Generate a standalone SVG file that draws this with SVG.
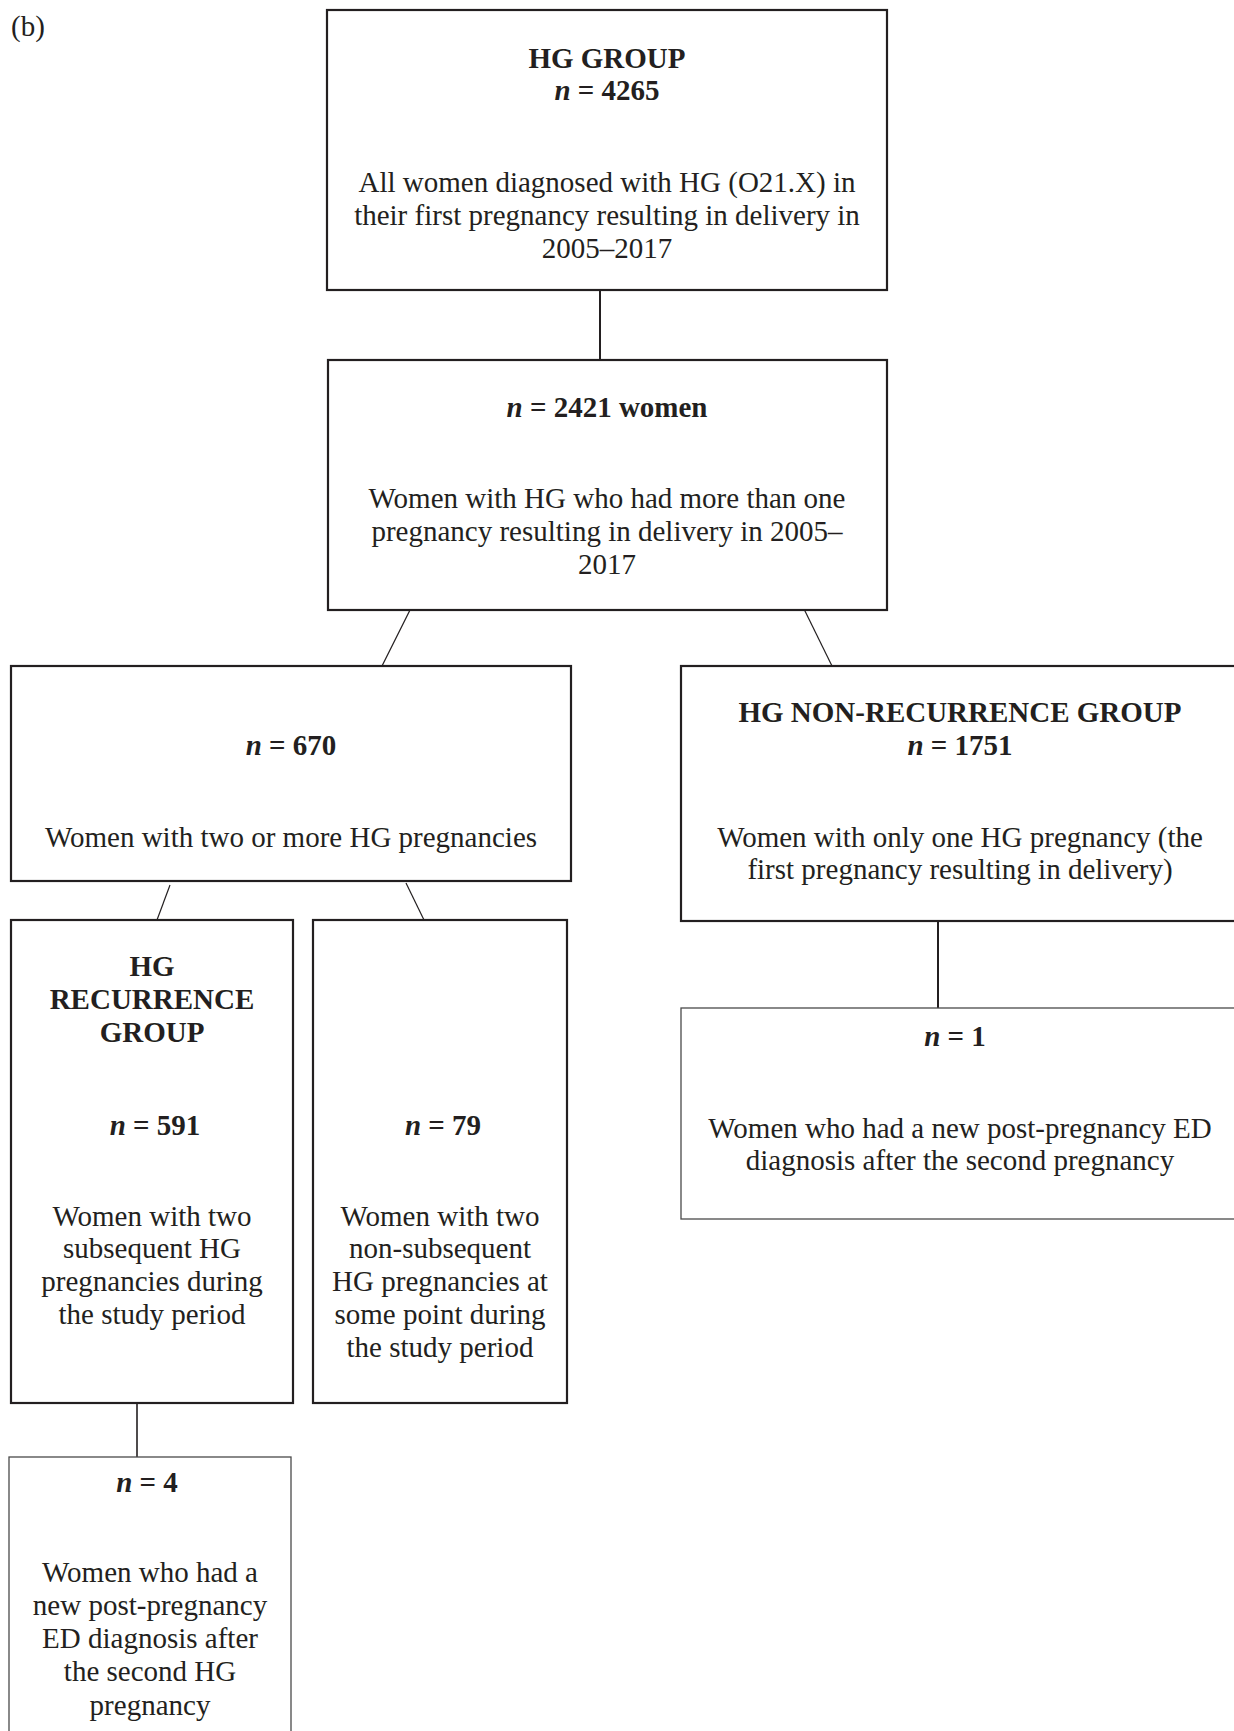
<svg xmlns="http://www.w3.org/2000/svg" width="1234" height="1731" viewBox="0 0 1234 1731">
<style>
  .box{fill:#ffffff;stroke:#231f20;stroke-width:2.2}
  .thin{fill:#ffffff;stroke:#4a4a4a;stroke-width:1.3}
  .c{stroke:#231f20;fill:none}
  .c2{stroke-width:2}
  .c1{stroke-width:1.2}
  text{font-family:"Liberation Serif","Times New Roman",serif;font-size:29px;fill:#231f20;text-anchor:middle}
  .b{font-weight:bold}
  .i{font-style:italic}
</style>
<rect width="1234" height="1731" fill="#ffffff"/>
<text x="11" y="36" style="text-anchor:start">(b)</text>
<g id="connectors">
  <line class="c c2" x1="600" y1="290" x2="600" y2="360"/>
  <line class="c c1" x1="410" y1="610" x2="382" y2="666"/>
  <line class="c c1" x1="804" y1="609" x2="832" y2="666"/>
  <line class="c c1" x1="170" y1="885" x2="157" y2="920"/>
  <line class="c c1" x1="406" y1="883" x2="424" y2="920"/>
  <line class="c c2" x1="938" y1="921" x2="938" y2="1008"/>
  <line class="c" style="stroke-width:1.6" x1="137" y1="1403" x2="137" y2="1457"/>
</g>
<g id="hg-group">
  <rect class="box" x="327" y="10" width="560" height="280"/>
  <text class="b" x="607" y="68">HG GROUP</text>
  <text class="b" x="607" y="100"><tspan class="i">n</tspan> = 4265</text>
  <text x="607" y="192">All women diagnosed with HG (O21.X) in</text>
  <text x="607" y="225">their first pregnancy resulting in delivery in</text>
  <text x="607" y="258">2005–2017</text>
</g>
<g id="n2421">
  <rect class="box" x="328" y="360" width="559" height="250"/>
  <text class="b" x="607" y="417"><tspan class="i">n</tspan> = 2421 women</text>
  <text x="607" y="508">Women with HG who had more than one</text>
  <text x="607" y="541">pregnancy resulting in delivery in 2005–</text>
  <text x="607" y="574">2017</text>
</g>
<g id="n670">
  <rect class="box" x="11" y="666" width="560" height="215"/>
  <text class="b" x="291" y="755"><tspan class="i">n</tspan> = 670</text>
  <text x="291" y="847">Women with two or more HG pregnancies</text>
</g>
<g id="non-recurrence">
  <rect class="box" x="681" y="666" width="559" height="255"/>
  <text class="b" x="960" y="722">HG NON-RECURRENCE GROUP</text>
  <text class="b" x="960" y="755"><tspan class="i">n</tspan> = 1751</text>
  <text x="960" y="847">Women with only one HG pregnancy (the</text>
  <text x="960" y="879">first pregnancy resulting in delivery)</text>
</g>
<g id="recurrence">
  <rect class="box" x="11" y="920" width="282" height="483"/>
  <text class="b" x="152" y="976">HG</text>
  <text class="b" x="152" y="1009">RECURRENCE</text>
  <text class="b" x="152" y="1042">GROUP</text>
  <text class="b" x="155" y="1135"><tspan class="i">n</tspan> = 591</text>
  <text x="152" y="1226">Women with two</text>
  <text x="152" y="1258">subsequent HG</text>
  <text x="152" y="1291">pregnancies during</text>
  <text x="152" y="1324">the study period</text>
</g>
<g id="n79">
  <rect class="box" x="313" y="920" width="254" height="483"/>
  <text class="b" x="443" y="1135"><tspan class="i">n</tspan> = 79</text>
  <text x="440" y="1226">Women with two</text>
  <text x="440" y="1258">non-subsequent</text>
  <text x="440" y="1291">HG pregnancies at</text>
  <text x="440" y="1324">some point during</text>
  <text x="440" y="1357">the study period</text>
</g>
<g id="n1">
  <rect class="thin" x="681" y="1008" width="559" height="211"/>
  <text class="b" x="955" y="1046"><tspan class="i">n</tspan> = 1</text>
  <text x="960" y="1138">Women who had a new post-pregnancy ED</text>
  <text x="960" y="1170">diagnosis after the second pregnancy</text>
</g>
<g id="n4">
  <rect class="thin" x="9" y="1457" width="282" height="290"/>
  <text class="b" x="147" y="1492"><tspan class="i">n</tspan> = 4</text>
  <text x="150" y="1582">Women who had a</text>
  <text x="150" y="1615">new post-pregnancy</text>
  <text x="150" y="1648">ED diagnosis after</text>
  <text x="150" y="1681">the second HG</text>
  <text x="150" y="1715">pregnancy</text>
</g>
</svg>
